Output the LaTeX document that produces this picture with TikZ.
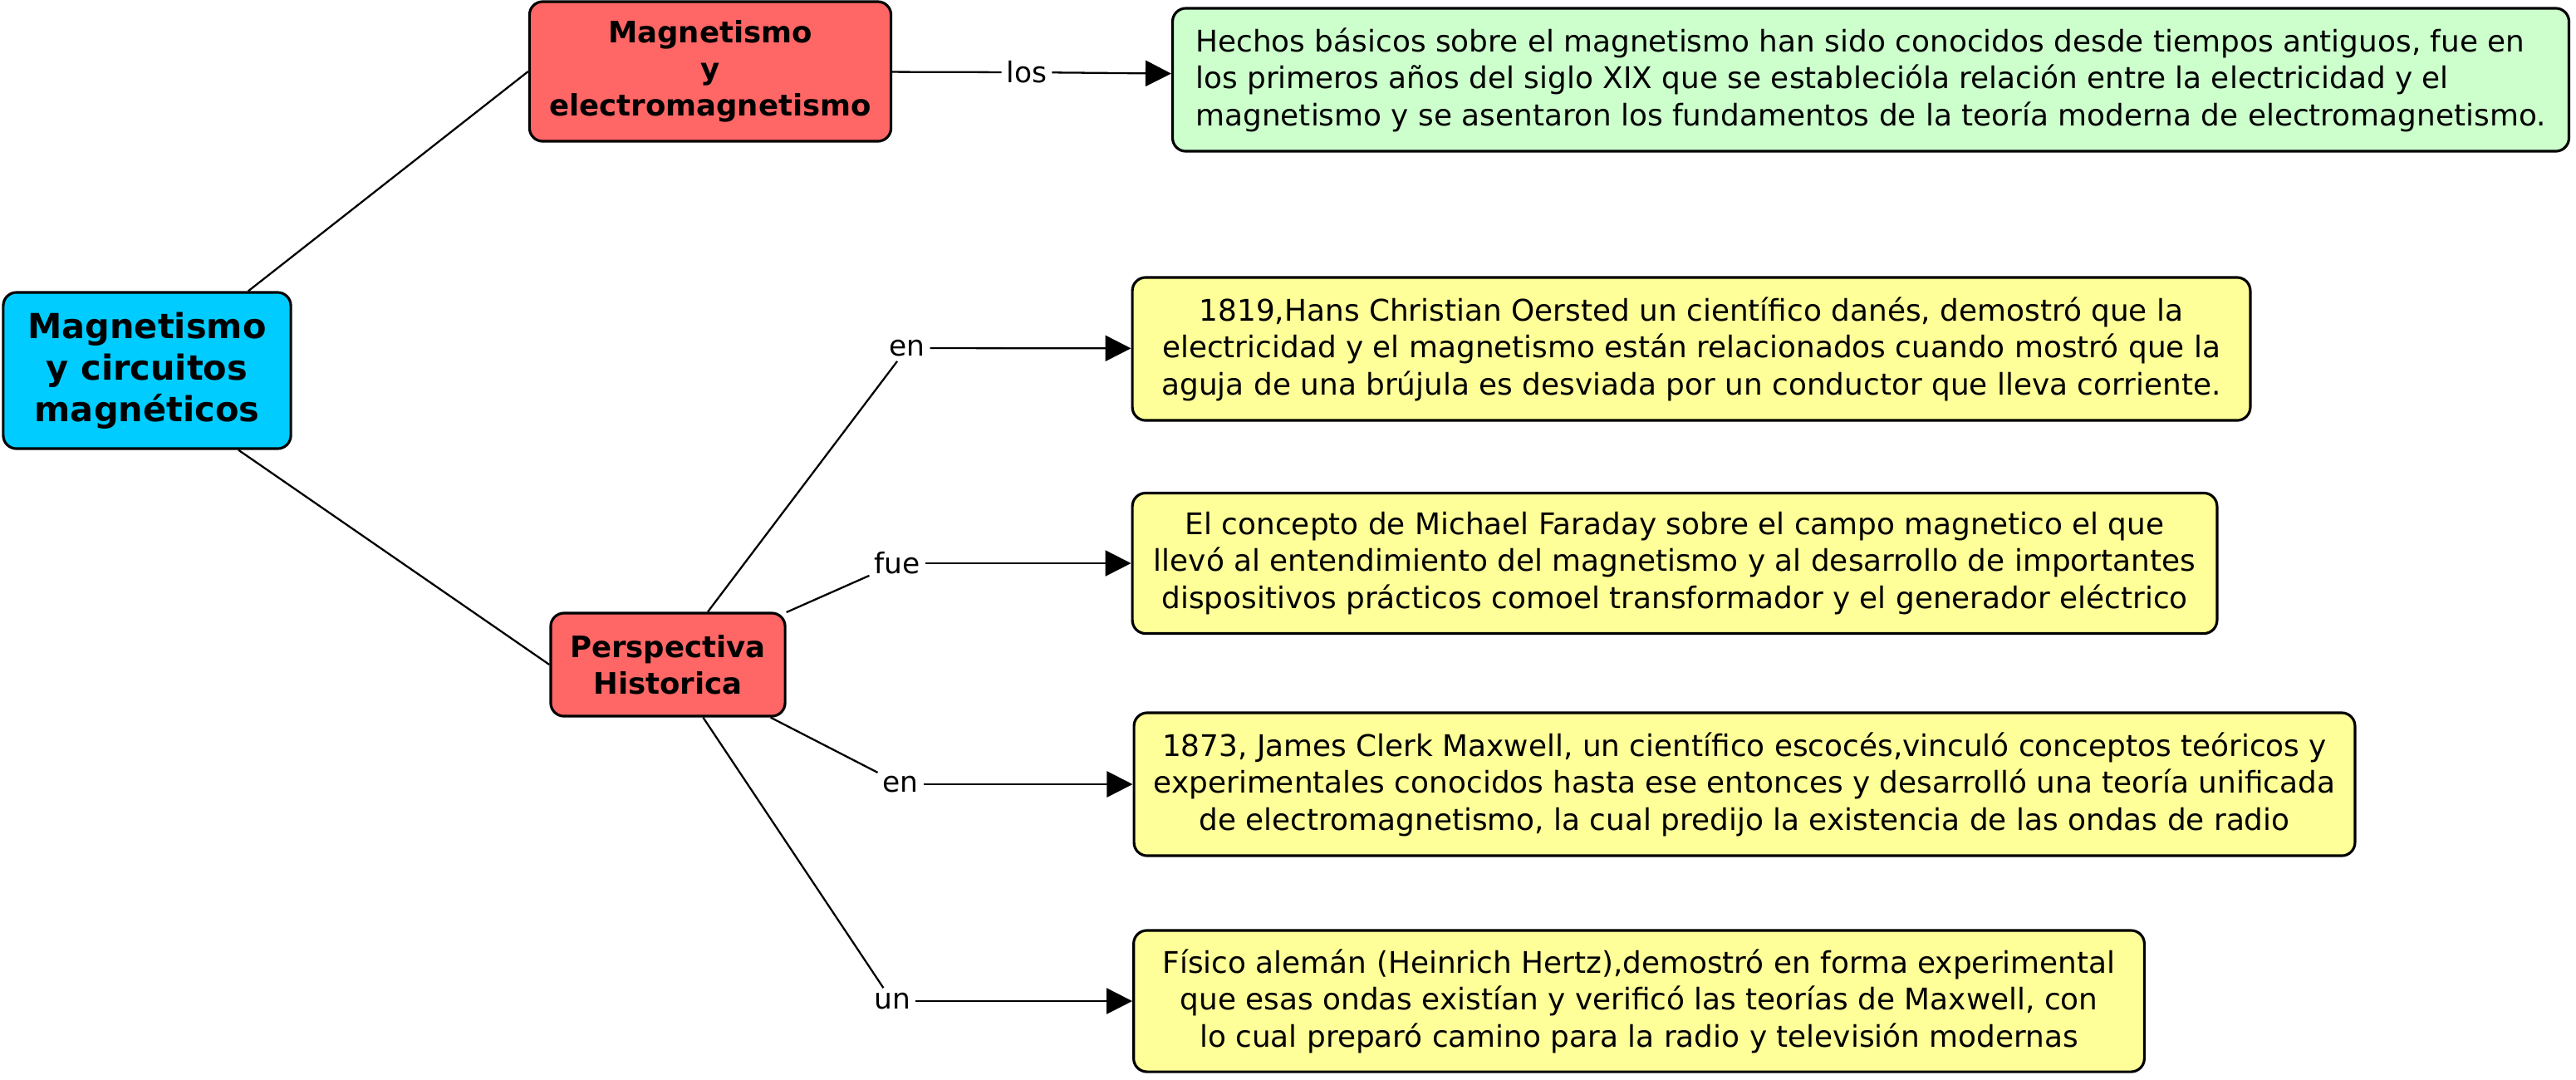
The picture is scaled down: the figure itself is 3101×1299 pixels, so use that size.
\documentclass[tikz,border=0pt]{standalone}
\usepackage{fontspec}
\setmainfont{DejaVu Sans}
\usetikzlibrary{arrows.meta}
\definecolor{c1}{RGB}{0,204,255}
\definecolor{c2}{RGB}{255,102,102}
\definecolor{c3}{RGB}{204,255,204}
\definecolor{c4}{RGB}{255,255,153}
\tikzset{
  box/.style = {draw=black, line width=0.9pt, rounded corners=0.16cm, inner sep=0pt, align=center},
  box_root/.style = {box, fill=c1, font=\bfseries\fontsize{11.8}{14.2}\selectfont},
  box_red/.style = {box, fill=c2, font=\bfseries\fontsize{10.1}{12.6}\selectfont},
  note_green/.style = {box, fill=c3, align=left, font=\fontsize{10.2}{12.66}\selectfont},
  note_yellow/.style = {box, fill=c4, font=\fontsize{10.2}{12.66}\selectfont},
  link/.style = {inner sep=1.5pt, font=\fontsize{9.8}{11}\selectfont},
  edge/.style = {line width=0.65pt},
  edgea/.style = {-{Triangle[length=0.31cm, width=0.31cm]}, line width=0.65pt},
}

\begin{document}
\begin{tikzpicture}[x=0.01cm, y=-0.01cm]
    \useasboundingbox (0,0) rectangle (3101,1299);

    \node[box_root, minimum width=3.46cm, minimum height=1.88cm] (root) at (177,446)
        {Magnetismo\\ y circuitos\\ magnéticos};

    \node[box_red, minimum width=4.35cm, minimum height=1.68cm] (mag) at (855,86)
        {Magnetismo\\ y\\ electromagnetismo};

    \node[box_red, minimum width=2.82cm, minimum height=1.24cm] (hist) at (804,800)
        {Perspectiva\\ Historica};

    \node[note_green, minimum width=16.8cm, minimum height=1.72cm] (hechos) at (2252,96)
        {Hechos básicos sobre el magnetismo han sido conocidos desde tiempos antiguos, fue en\\
         los primeros años del siglo XIX que se establecióla relación entre la electricidad y el\\
         magnetismo y se asentaron los fundamentos de la teoría moderna de electromagnetismo.};

    \node[note_yellow, minimum width=13.45cm, minimum height=1.72cm] (oersted) at (2036,420)
        {1819,Hans Christian Oersted un científico danés, demostró que la\\
         electricidad y el magnetismo están relacionados cuando mostró que la\\
         aguja de una brújula es desviada por un conductor que lleva corriente.};

    \node[note_yellow, minimum width=13.05cm, minimum height=1.69cm] (faraday) at (2016,678)
        {El concepto de Michael Faraday sobre el campo magnetico el que\\
         llevó al entendimiento del magnetismo y al desarrollo de importantes\\
         dispositivos prácticos comoel transformador y el generador eléctrico};

    \node[note_yellow, minimum width=14.69cm, minimum height=1.72cm] (maxwell) at (2100,944)
        {1873, James Clerk Maxwell, un científico escocés,vinculó conceptos teóricos y\\
         experimentales conocidos hasta ese entonces y desarrolló una teoría unificada\\
         de electromagnetismo, la cual predijo la existencia de las ondas de radio};

    \node[note_yellow, minimum width=12.16cm, minimum height=1.70cm] (hertz) at (1973,1205)
        {Físico alemán (Heinrich Hertz),demostró en forma experimental\\
         que esas ondas existían y verificó las teorías de Maxwell, con\\
         lo cual preparó camino para la radio y televisión modernas};

    \node[link] (los) at (1236,87) {los};
    \node[link] (en1) at (1092,419) {en};
    \node[link] (fue) at (1080,678) {fue};
    \node[link] (en2) at (1084,944) {en};
    \node[link] (un) at (1074,1205) {un};

    \draw[edge] (root) -- (mag.west);
    \draw[edge] (root.-41) -- (hist.west);

    \draw[edge] (mag) -- (los);
    \draw[edgea] (los) -- (hechos);

    \draw[edge] (hist) -- (en1);
    \draw[edgea] (en1) -- (oersted);
    \draw[edge] (hist) -- (fue);
    \draw[edgea] (fue) -- (faraday);
    \draw[edge] (hist) -- (en2);
    \draw[edgea] (en2) -- (maxwell);
    \draw[edge] (hist) -- (un);
    \draw[edgea] (un) -- (hertz);

\end{tikzpicture}
\end{document}
